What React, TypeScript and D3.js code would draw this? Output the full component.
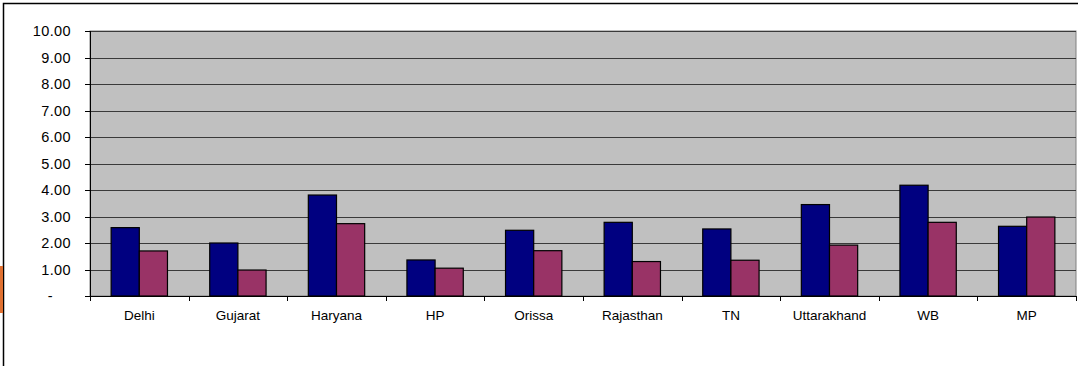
import React from "react";
import * as d3 from "d3";

const categories = ["Delhi", "Gujarat", "Haryana", "HP", "Orissa", "Rajasthan", "TN", "Uttarakhand", "WB", "MP"];
const seriesA = [2.58, 2.0, 3.81, 1.36, 2.48, 2.78, 2.53, 3.45, 4.18, 2.63];
const seriesB = [1.7, 0.98, 2.73, 1.05, 1.71, 1.3, 1.35, 1.92, 2.78, 2.98];
const yTicks = [0, 1, 2, 3, 4, 5, 6, 7, 8, 9, 10];

const W = 1078;
const H = 366;
const plot = { left: 90, right: 1076, top: 31, bottom: 296 };

export default function App() {
  const x = d3
    .scaleBand<string>()
    .domain(categories)
    .range([plot.left, plot.right])
    .paddingInner(0)
    .paddingOuter(0);
  const y = d3.scaleLinear().domain([0, 10]).range([plot.bottom, plot.top]);

  const band = x.bandwidth();
  // Excel-style gap width of 150%: bar = band / 3.5
  const barW = band / 3.5;
  const gap = barW * 0.75;

  const fmt = (v: number) => (v === 0 ? "-" : d3.format(".2f")(v));
  const font = "Liberation Sans, Arial, sans-serif";

  return (
    <svg
      width={W}
      height={H}
      style={{ position: "fixed", left: 0, top: 0, background: "#fff" }}
    >
      {/* chart frame */}
      <rect x={3.5} y={3.5} width={W + 20} height={H + 20} fill="#fff" stroke="#000" strokeWidth={1.5} />
      <rect x={0} y={266} width={3} height={47} fill="#e07030" />

      {/* plot area */}
      <rect
        x={plot.left}
        y={plot.top}
        width={plot.right - plot.left}
        height={plot.bottom - plot.top}
        fill="#c0c0c0"
        stroke="#808080"
        strokeWidth={1}
      />
      {yTicks.map((t) => (
        <g key={t}>
          {t > 0 && (
            <line
              x1={plot.left}
              x2={plot.right}
              y1={Math.round(y(t)) + 0.5}
              y2={Math.round(y(t)) + 0.5}
              stroke="#3a3a3a"
              strokeWidth={1}
            />
          )}
          <line
            x1={plot.left - 5}
            x2={plot.left}
            y1={Math.round(y(t)) + 0.5}
            y2={Math.round(y(t)) + 0.5}
            stroke="#000"
          />
          <text
            x={t === 0 ? 53 : 71}
            y={y(t)}
            dy="0.35em"
            textAnchor="end"
            fontFamily={font}
            fontSize={14.5}
            letterSpacing={0.4}
            fill="#000"
          >
            {fmt(t)}
          </text>
        </g>
      ))}

      {/* bars */}
      {categories.map((c, i) => {
        const x0 = (x(c) as number) + gap;
        return (
          <g key={c}>
            <rect
              x={x0}
              y={y(seriesA[i])}
              width={barW}
              height={y(0) - y(seriesA[i])}
              fill="#000080"
              stroke="#000"
              strokeWidth={1.2}
            />
            <rect
              x={x0 + barW}
              y={y(seriesB[i])}
              width={barW}
              height={y(0) - y(seriesB[i])}
              fill="#993366"
              stroke="#000"
              strokeWidth={1.2}
            />
          </g>
        );
      })}

      {/* axes */}
      <line x1={plot.left + 0.5} x2={plot.left + 0.5} y1={plot.top} y2={plot.bottom} stroke="#000" />
      <line x1={plot.left} x2={plot.right} y1={plot.bottom + 0.5} y2={plot.bottom + 0.5} stroke="#000" />
      {[...categories.map((c) => x(c) as number), plot.right].map((tx, i) => (
        <line
          key={i}
          x1={Math.round(tx) + 0.5}
          x2={Math.round(tx) + 0.5}
          y1={plot.bottom}
          y2={plot.bottom + 5}
          stroke="#000"
        />
      ))}
      {categories.map((c) => (
        <text
          key={c}
          x={(x(c) as number) + band / 2}
          y={320}
          textAnchor="middle"
          fontFamily={font}
          fontSize={13.5}
          fill="#000"
        >
          {c}
        </text>
      ))}
    </svg>
  );
}
